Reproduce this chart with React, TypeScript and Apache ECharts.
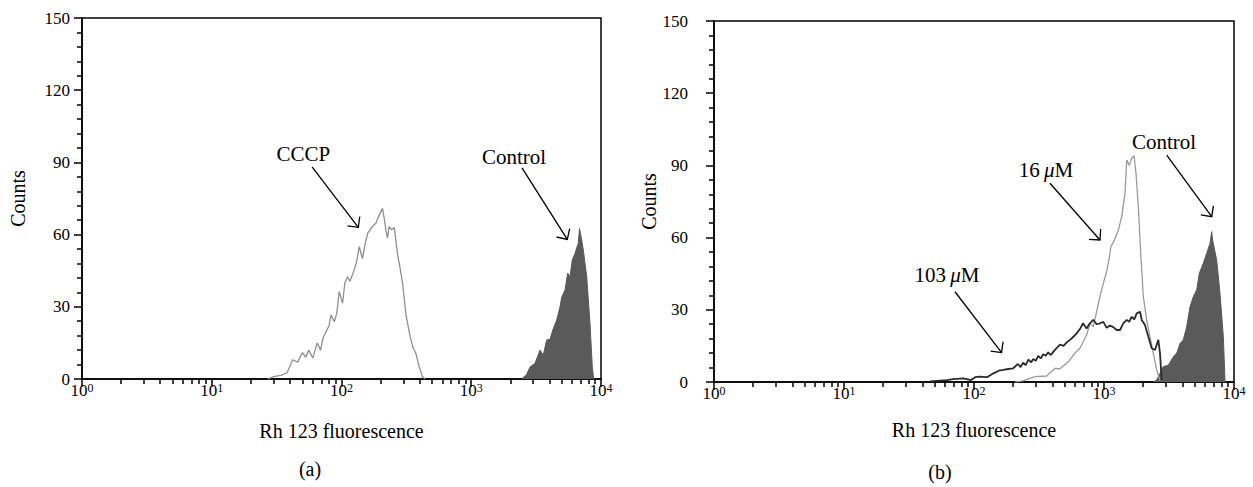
import React, { useEffect, useRef } from "react";
import * as echarts from "echarts";

const FONT = "Liberation Serif, DejaVu Serif, serif";

// ---------- Panel (a) ----------
const cccpX = [27, 30, 34, 38, 42, 46, 50, 53, 56, 60, 65, 69, 72, 76, 80, 83, 88, 92, 96, 102, 106, 111, 116, 124, 130, 137, 145, 152, 159, 166, 173, 184, 195, 207, 213, 220, 226, 233, 244, 255, 270, 283, 296, 314, 338, 356, 374, 397, 420, 440];
const cccpY = [0, 1, 1.5, 2.5, 8, 7, 11, 9, 12, 8.7, 15, 12, 17, 19.7, 22, 26.6, 23.8, 27.4, 36.3, 31.5, 39.7, 42.5, 40.6, 44.6, 48, 55, 50, 56, 60.5, 62, 63.3, 64.7, 68, 70.9, 67, 62, 58.5, 63.3, 62, 63, 52, 46, 39.7, 26.6, 17.6, 13, 10.7, 5.1, 1, 0];

const controlAX = [2448, 2675, 2836, 3099, 3388, 3591, 3813, 4045, 4289, 4558, 4833, 4978, 5280, 5538, 5768, 6006, 6303, 6685, 6829, 7097, 7306, 7762, 8230, 8570, 8785];
const controlAY = [0, 2, 5, 6.5, 12, 10, 16.2, 16.5, 21, 24.5, 30, 34, 37, 44, 42.5, 49.4, 52.2, 56.4, 62.5, 57.8, 53.6, 42.5, 23, 5, 0];

// ---------- Panel (b) ----------
const um16X = [207, 238, 295, 362, 420, 459, 531, 598, 653, 735, 780, 827, 879, 931, 988, 1049, 1092, 1132, 1180, 1289, 1368, 1451, 1496, 1567, 1635, 1702, 1763, 1836, 1916, 2006, 2129, 2258, 2395, 2543, 2697];
const um16Y = [0, 0.5, 2.2, 2.5, 5.7, 5.5, 8.4, 12, 14, 19.5, 24.4, 23, 29.4, 35.6, 41, 46, 50.8, 56.4, 58, 63, 68.7, 78.4, 92.2, 90, 93, 94, 86.7, 73, 53.5, 35.6, 25.8, 18.8, 11.9, 5, 0.5];

const um103X = [46, 62, 69, 83, 95, 102, 111, 126, 141, 155, 168, 184, 200, 218, 228, 239, 250, 262, 275, 286, 298, 312, 326, 341, 356, 372, 390, 407, 430, 459, 488, 517, 548, 581, 615, 653, 690, 735, 780, 827, 878, 931, 988, 1049, 1110, 1180, 1250, 1328, 1407, 1496, 1560, 1635, 1710, 1785, 1892, 1950, 2067, 2193, 2328, 2467, 2617, 2697, 2778];
const um103Y = [0.3, 0.8, 1.2, 1.5, 0.8, 2, 2.2, 2, 3.6, 4.7, 5, 5.4, 5.7, 7.5, 6.2, 8, 7, 9.3, 8.2, 9.6, 8.8, 10.8, 9.8, 11.5, 10.9, 12.3, 11.2, 12.5, 14, 15.5, 15, 16.5, 17.5, 18.8, 20.2, 22, 24.4, 22.2, 24.5, 25.8, 24, 24.4, 25, 22.5, 23.5, 22.8, 21.6, 21.6, 24.4, 25.8, 25, 27.1, 26, 28.5, 29.2, 25.8, 23.7, 18.8, 14, 13.3, 17.5, 11.9, 0.8];

const controlBX = [2400, 2543, 2858, 3124, 3415, 3624, 3843, 4076, 4325, 4588, 4866, 5164, 5410, 5803, 6160, 6537, 6734, 6850, 7357, 7805, 8280, 8529];
const controlBY = [0, 0.8, 6.4, 7, 10.5, 12, 16, 17.5, 23, 31.3, 35.5, 38.2, 45.2, 49.3, 53.5, 57.6, 62.5, 59, 50.7, 36.8, 18.8, 0];

// ---------- Axes ----------
const xMajorTicks = [1, 10, 100, 1000, 10000];
const xMinorTicks = [2, 3, 4, 5, 6, 7, 8, 9, 20, 30, 40, 50, 60, 70, 80, 90, 200, 300, 400, 500, 600, 700, 800, 900, 2000, 3000, 4000, 5000, 6000, 7000, 8000, 9000];
const yMin = 0;
const yMax = 150;
const yInterval = 30;

// Annotations: [fluorescence, count] in data space
const annotations = [
  { panel: 0, text: "CCCP", label: [50.9, 93.5], from: [59.3, 88.1], to: [134.8, 63.0] },
  { panel: 0, text: "Control", label: [2136, 92.2], from: [2461, 87.7], to: [5497, 58.0] },
  { panel: 1, text: "16\u2009{i|μ}M", label: [358, 88.1], from: [384, 82.6], to: [931, 59.0] },
  { panel: 1, text: "103\u2009{i|μ}M", label: [62.0, 44.5], from: [71.4, 37.5], to: [163, 12.2] },
  { panel: 1, text: "Control", label: [2894, 99.7], from: [3036, 94.3], to: [6739, 68.7] },
];

const zip = (xs: number[], ys: number[]) => xs.map((x, i) => [x, ys[i]]);

const grids = [
  { left: 82, top: 18, width: 519, height: 361 },
  { left: 714, top: 21, width: 520, height: 361 },
];

function majorX(gridIndex: number, nameGap: number) {
  return {
    type: "log",
    logBase: 10,
    gridIndex,
    position: "bottom",
    min: 1,
    max: 10000,
    name: "Rh 123 fluorescence",
    nameLocation: "middle",
    nameGap,
    nameTextStyle: { fontFamily: FONT, fontSize: 20, color: "#000" },
    axisLine: { show: true, lineStyle: { color: "#000", width: 1.5 } },
    axisTick: { show: true, customValues: xMajorTicks, length: 8, lineStyle: { color: "#000", width: 1.5 } },
    minorTick: { show: false },
    splitLine: { show: false },
    axisLabel: {
      customValues: xMajorTicks,
      margin: 3,
      fontFamily: FONT,
      color: "#000",
      formatter: (v: number) => `{b|10}{s|${Math.round(Math.log10(v))}}`,
      rich: {
        b: { fontFamily: FONT, fontSize: 17, color: "#000", lineHeight: 17, padding: [10, 0, 0, 0], verticalAlign: "bottom" },
        s: { fontFamily: FONT, fontSize: 12, color: "#000", lineHeight: 12, verticalAlign: "top" },
      },
    },
  };
}

function minorX(gridIndex: number) {
  return {
    type: "log",
    logBase: 10,
    gridIndex,
    position: "bottom",
    min: 1,
    max: 10000,
    axisLine: { show: false },
    axisTick: { show: true, customValues: xMinorTicks, length: 5, lineStyle: { color: "#000", width: 1.5 } },
    axisLabel: { show: false },
    splitLine: { show: false },
  };
}

function yAx(gridIndex: number, nameGap: number, margin: number) {
  return {
    type: "value",
    gridIndex,
    min: yMin,
    max: yMax,
    interval: yInterval,
    name: "Counts",
    nameLocation: "middle",
    nameGap,
    nameTextStyle: { fontFamily: FONT, fontSize: 20, color: "#000" },
    axisLine: { show: true, lineStyle: { color: "#000", width: 1.5 } },
    axisTick: { show: true, length: 8, lineStyle: { color: "#000", width: 1.5 } },
    minorTick: { show: true, splitNumber: 5, length: 5, lineStyle: { color: "#000", width: 1.5 } },
    splitLine: { show: false },
    axisLabel: { margin, fontFamily: FONT, fontSize: 17, color: "#000" },
  };
}

export default function App() {
  const ref = useRef<HTMLDivElement>(null);

  useEffect(() => {
    if (!ref.current) return;
    const chart = echarts.init(ref.current, undefined, { renderer: "svg" });
    const lineBase = { type: "line", showSymbol: false, symbol: "none", smooth: false };
    chart.setOption({
      animation: false,
      backgroundColor: "#fff",
      textStyle: { fontFamily: FONT },
      grid: grids.map((g) => ({ ...g, show: true, borderColor: "#000", borderWidth: 1.5, backgroundColor: "transparent" })),
      xAxis: [majorX(0, 42), minorX(0), majorX(1, 38), minorX(1)],
      yAxis: [yAx(0, 54, 12), yAx(1, 52, 26)],
      series: [
        {
          ...lineBase,
          name: "Control (a)",
          xAxisIndex: 0,
          yAxisIndex: 0,
          data: zip(controlAX, controlAY),
          lineStyle: { color: "#5a5a5a", width: 1 },
          areaStyle: { color: "#5a5a5a", opacity: 1 },
        },
        {
          ...lineBase,
          name: "CCCP",
          xAxisIndex: 0,
          yAxisIndex: 0,
          data: zip(cccpX, cccpY),
          lineStyle: { color: "#8f8f8f", width: 1.3 },
        },
        {
          ...lineBase,
          name: "Control (b)",
          xAxisIndex: 2,
          yAxisIndex: 1,
          data: zip(controlBX, controlBY),
          lineStyle: { color: "#5a5a5a", width: 1 },
          areaStyle: { color: "#5a5a5a", opacity: 1 },
        },
        {
          ...lineBase,
          name: "16 μM",
          xAxisIndex: 2,
          yAxisIndex: 1,
          data: zip(um16X, um16Y),
          lineStyle: { color: "#9a9a9a", width: 1.3 },
        },
        {
          ...lineBase,
          name: "103 μM",
          xAxisIndex: 2,
          yAxisIndex: 1,
          data: zip(um103X, um103Y),
          lineStyle: { color: "#2b2b2b", width: 1.8 },
        },
      ],
    });

    const graphics: any[] = [];
    annotations.forEach((a) => {
      const finder = { xAxisIndex: a.panel === 0 ? 0 : 2, yAxisIndex: a.panel };
      const lp = chart.convertToPixel(finder, a.label) as number[];
      const sp = chart.convertToPixel(finder, a.from) as number[];
      const tp = chart.convertToPixel(finder, a.to) as number[];
      if (!lp || !sp || !tp) return;
      const ang = Math.atan2(tp[1] - sp[1], tp[0] - sp[0]);
      const L = 11;
      const spread = Math.PI / 4;
      const p1 = [tp[0] - L * Math.cos(ang - spread), tp[1] - L * Math.sin(ang - spread)];
      const p2 = [tp[0] - L * Math.cos(ang + spread), tp[1] - L * Math.sin(ang + spread)];
      graphics.push({
        type: "text",
        x: lp[0],
        y: lp[1],
        style: {
          text: a.text,
          fontFamily: FONT,
          fontSize: 21,
          fill: "#000",
          align: "center",
          verticalAlign: "middle",
          rich: { i: { fontFamily: FONT, fontSize: 21, fontStyle: "italic", fill: "#000" } },
        },
        z: 100,
      });
      graphics.push({
        type: "line",
        shape: { x1: sp[0], y1: sp[1], x2: tp[0], y2: tp[1] },
        style: { stroke: "#000", lineWidth: 1.3 },
        z: 100,
      });
      graphics.push({
        type: "polyline",
        shape: { points: [p1, tp, p2] },
        style: { stroke: "#000", fill: null, lineWidth: 1.3 },
        z: 100,
      });
    });
    graphics.push({
      type: "text",
      x: 310,
      y: 469,
      style: { text: "(a)", fontFamily: FONT, fontSize: 20, fill: "#000", align: "center", verticalAlign: "middle" },
    });
    graphics.push({
      type: "text",
      x: 940,
      y: 472,
      style: { text: "(b)", fontFamily: FONT, fontSize: 20, fill: "#000", align: "center", verticalAlign: "middle" },
    });
    chart.setOption({ graphic: graphics });

    return () => chart.dispose();
  }, []);

  return (
    <div
      ref={ref}
      style={{ position: "absolute", left: 0, top: 0, width: 1253, height: 487, background: "#fff" }}
    />
  );
}
